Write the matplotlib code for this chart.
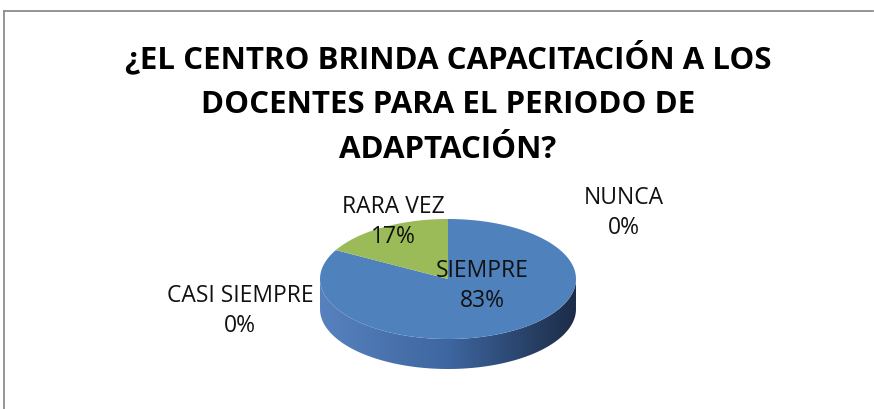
import numpy as np
import matplotlib.pyplot as plt
from matplotlib.patches import Polygon
from matplotlib.colors import LinearSegmentedColormap

# data
categories = ["SIEMPRE", "CASI SIEMPRE", "RARA VEZ", "NUNCA"]
values = [83, 0, 17, 0]
title = "¿EL CENTRO BRINDA CAPACITACIÓN A LOS\nDOCENTES PARA EL PERIODO DE\nADAPTACIÓN?"

top_colors = {"SIEMPRE": "#4F81BD", "RARA VEZ": "#9BBB59"}
side_colors = {"SIEMPRE": ["#5782BE", "#3E66A0", "#1C2C47"],
               "RARA VEZ": ["#9BBB59", "#5E7530"]}

# label positions in pixel coords (layout only)
label_pos = {"SIEMPRE": (482, 286), "CASI SIEMPRE": (240, 311),
             "RARA VEZ": (393, 222), "NUNCA": (624, 213)}

W, H = 874, 410
fig = plt.figure(figsize=(W / 100, H / 100), dpi=100)
ax = fig.add_axes([0, 0, 1, 1])
ax.set_xlim(0, W)
ax.set_ylim(H, 0)
ax.axis("off")

# chart frame (only top and left edges visible)
ax.plot([4, 873], [12, 12], color="#8C8C8C", lw=1.3)
ax.plot([4, 4], [12, 410], color="#8C8C8C", lw=1.3)

fam = ["Open Sans", "DejaVu Sans"]
ax.text(448, 103, title, ha="center", va="center", fontsize=22.5,
        fontweight="bold", family=fam, linespacing=1.63)

# pie geometry
cx, cy, a, b, depth = 448, 280, 128, 60, 30

def pt(t, dy=0):
    return cx + a * np.cos(t), cy - b * np.sin(t) + dy

total = sum(values)
start = np.pi / 2
angles = {}
for cat, v in zip(categories, values):
    span = 2 * np.pi * v / total
    angles[cat] = (start - span, start)  # clockwise from 12 o'clock
    start -= span

# side walls: only the front part is visible
grad = np.linspace(0, 1, 256).reshape(1, -1)
for cat, v in zip(categories, values):
    if v == 0:
        continue
    t0, t1 = angles[cat]
    ts = np.linspace(t0, t1, 400)
    front = ts[np.sin(ts) <= 0]
    if len(front) < 2:
        continue
    xs, ys = pt(front)
    xb, yb = pt(front[::-1], depth)
    verts = np.column_stack([np.concatenate([xs, xb]), np.concatenate([ys, yb])])
    poly = Polygon(verts, closed=True, facecolor="none", edgecolor="none")
    ax.add_patch(poly)
    cmap = LinearSegmentedColormap.from_list(cat, side_colors[cat])
    im = ax.imshow(grad, cmap=cmap, extent=[cx - a, cx + a, cy + b + depth, cy - b],
                   aspect="auto", zorder=1)
    im.set_clip_path(poly)

# top faces
for cat, v in zip(categories, values):
    if v == 0:
        continue
    t0, t1 = angles[cat]
    ts = np.linspace(t0, t1, 300)
    xs, ys = pt(ts)
    verts = np.column_stack([np.concatenate([[cx], xs]), np.concatenate([[cy], ys])])
    ax.add_patch(Polygon(verts, closed=True, facecolor=top_colors[cat],
                         edgecolor="none", zorder=2))

# labels
for cat, v in zip(categories, values):
    x, y = label_pos[cat]
    ax.text(x, y, f"{cat}\n{v}%", ha="center", va="center", fontsize=16.5,
            family=fam, linespacing=1.36, color="#111111", zorder=3)

ax.set_xlim(0, W)
ax.set_ylim(H, 0)
fig.savefig("out.png", dpi=100)
